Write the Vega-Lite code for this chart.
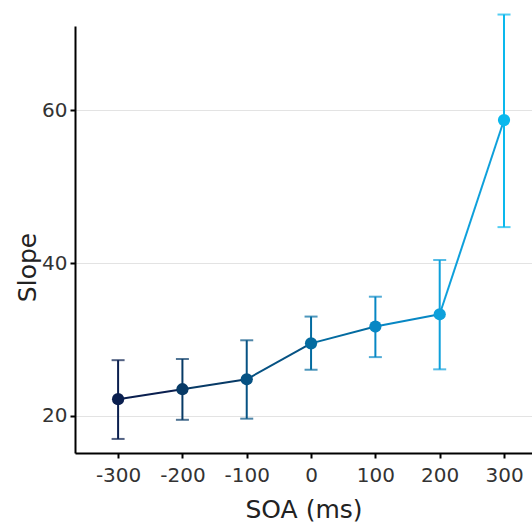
{
  "$schema": "https://vega.github.io/schema/vega-lite/v6.json",
  "width": 457,
  "height": 427,
  "autosize": {"type": "none"},
  "padding": {"left": 75, "top": 26, "right": 0, "bottom": 70},
  "background": "white",
  "config": {
    "view": {"stroke": null},
    "font": "DejaVu Sans",
    "axis": {
      "domainColor": "black",
      "domainWidth": 2,
      "tickColor": "black",
      "tickWidth": 2,
      "tickSize": 5,
      "labelColor": "#333333",
      "labelFontSize": 20,
      "labelFont": "DejaVu Sans",
      "titleFont": "DejaVu Sans",
      "titleColor": "#222222",
      "titleFontSize": 25,
      "titleFontWeight": "normal",
      "gridColor": "#e3e3e3",
      "gridWidth": 1
    }
  },
  "data": {
    "values": [
      {"soa": -300, "slope": 22.2, "lo": 17.0, "hi": 27.3, "soa_next": -200, "slope_next": 23.5},
      {"soa": -200, "slope": 23.5, "lo": 19.5, "hi": 27.45, "soa_next": -100, "slope_next": 24.8},
      {"soa": -100, "slope": 24.8, "lo": 19.65, "hi": 29.9, "soa_next": 0, "slope_next": 29.5},
      {"soa": 0, "slope": 29.5, "lo": 26.05, "hi": 33.0, "soa_next": 100, "slope_next": 31.7},
      {"soa": 100, "slope": 31.7, "lo": 27.7, "hi": 35.6, "soa_next": 200, "slope_next": 33.3},
      {"soa": 200, "slope": 33.3, "lo": 26.1, "hi": 40.4, "soa_next": 300, "slope_next": 58.7},
      {"soa": 300, "slope": 58.7, "lo": 44.7, "hi": 72.5}
    ]
  },
  "encoding": {
    "x": {
      "field": "soa",
      "type": "quantitative",
      "scale": {"domain": [-367, 343.5], "nice": false, "zero": false},
      "axis": {"values": [-300, -200, -100, 0, 100, 200, 300], "labelExpr": "replace(datum.label, '\u2212', '-')", "grid": false, "title": "SOA (ms)", "titleFontSize": 25, "labelPadding": 7, "titlePadding": 12}
    },
    "color": {
      "field": "soa",
      "type": "ordinal",
      "scale": {
        "domain": [-300, -200, -100, 0, 100, 200, 300],
        "range": ["#0a1f4f", "#073a66", "#065283", "#036ba0", "#0787c4", "#0ea0db", "#0ab8ed"]
      },
      "legend": null
    }
  },
  "layer": [
    {
      "mark": {"type": "rule", "strokeWidth": 2},
      "encoding": {
        "y": {
          "field": "slope",
          "type": "quantitative",
          "scale": {"domain": [15.16, 71.0], "nice": false, "zero": false},
          "axis": {"values": [20, 40, 60], "grid": true, "title": "Slope", "labelPadding": 3, "titlePadding": 1, "titleY": 241}
        },
        "x2": {"field": "soa_next"},
        "y2": {"field": "slope_next"}
      }
    },
    {
      "mark": {"type": "rule", "strokeWidth": 2},
      "encoding": {
        "y": {"field": "lo", "type": "quantitative"},
        "y2": {"field": "hi"}
      }
    },
    {
      "mark": {"type": "tick", "orient": "horizontal", "size": 13, "thickness": 2},
      "encoding": {"y": {"field": "lo", "type": "quantitative"}}
    },
    {
      "mark": {"type": "tick", "orient": "horizontal", "size": 13, "thickness": 2},
      "encoding": {"y": {"field": "hi", "type": "quantitative"}}
    },
    {
      "mark": {"type": "point", "filled": true, "opacity": 1, "size": 150, "shape": "circle"},
      "encoding": {"y": {"field": "slope", "type": "quantitative"}}
    }
  ]
}
